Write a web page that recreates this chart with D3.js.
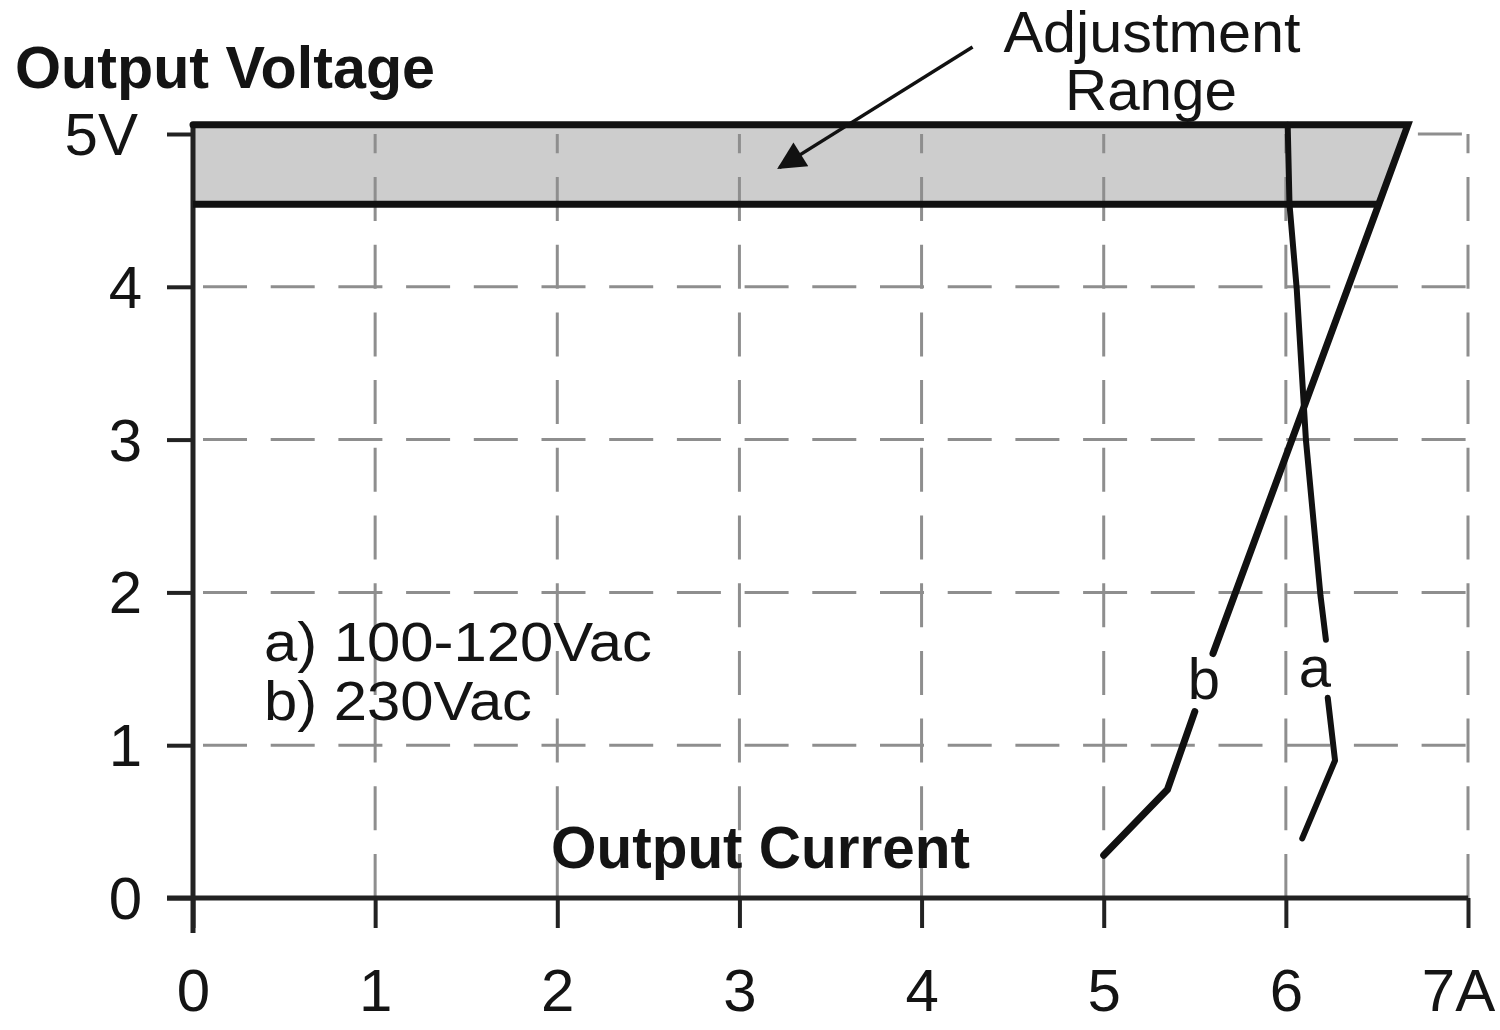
<!DOCTYPE html>
<html>
<head>
<meta charset="utf-8">
<script src="https://cdn.jsdelivr.net/npm/d3@7"></script>
<style>
  html, body { margin: 0; padding: 0; background: #ffffff; }
  svg { display: block; }
  text { font-family: "Liberation Sans", Arial, sans-serif; fill: #141414; }
</style>
</head>
<body>
<svg id="chart" width="1500" height="1030"></svg>
<script>
// ---------- data ----------
const xTicks = [0, 1, 2, 3, 4, 5, 6, 7];
const xTickLabels = ["0", "1", "2", "3", "4", "5", "6", "7A"];
const yTicks = [0, 1, 2, 3, 4, 5];
const yTickLabels = ["0", "1", "2", "3", "4", "5V"];
const gridX = [1, 2, 3, 4, 5, 6, 7];
const gridY = [1, 2, 3, 4];

// adjustment range band (output voltage, V)
const bandTop = 5.06;
const bandBottom = 4.54;

// curve a) 100-120Vac : [current A, voltage V], null = gap for label
const curveA = [[6.01, 5.06], [6.02, 4.54], [6.06, 3.98], [6.11, 3.00], [6.19, 1.98], [6.22, 1.69],
                null,
                [6.23, 1.31], [6.27, 0.90], [6.09, 0.39]];
// curve b) 230Vac
const curveB = [[6.67, 5.06], [6.51, 4.54], [5.60, 1.60],
                null,
                [5.50, 1.22], [5.35, 0.71], [5.00, 0.28]];

const curveLabels = [{ t: "b", x: 5.55, y: 1.30 }, { t: "a", x: 6.16, y: 1.38 }];
const legendLines = ["a) 100-120Vac", "b) 230Vac"];
const arrowFrom = [4.28, 5.57];
const arrowTo = [3.22, 4.78];

// ---------- scales ----------
const svg = d3.select("#chart");
const x = d3.scaleLinear().domain([0, 7]).range([193, 1468]);
const y = d3.scaleLinear().domain([0, 5]).range([898, 134]);

const gridColor = "#8e8e8e";
const ink = "#111";
const line = d3.line().defined(d => d !== null).x(d => x(d[0])).y(d => y(d[1]));

// ---------- band fill ----------
const bandPoly = [[0, bandTop], curveB[0], curveB[1], [0, bandBottom]];
svg.append("path")
  .attr("d", line(bandPoly) + "Z")
  .attr("fill", "#cdcdcd");

// ---------- grid ----------
const grid = svg.append("g");
grid.selectAll("line.gy").data(gridY).join("line")
  .attr("x1", x(0)).attr("x2", x(7))
  .attr("y1", d => y(d)).attr("y2", d => y(d))
  .attr("stroke", gridColor).attr("stroke-width", 3)
  .attr("stroke-dasharray", "44 23.7").attr("stroke-dashoffset", -10);
// top gridline (5V) only visible right of the band
grid.append("line")
  .attr("x1", x(curveB[0][0]) + 10).attr("x2", x(7))
  .attr("y1", y(5)).attr("y2", y(5))
  .attr("stroke", gridColor).attr("stroke-width", 3)
  .attr("stroke-dasharray", "44 12");
grid.selectAll("line.gx").data(gridX).join("line")
  .attr("x1", d => x(d)).attr("x2", d => x(d))
  .attr("y1", y(0)).attr("y2", y(5))
  .attr("stroke", gridColor).attr("stroke-width", 3)
  .attr("stroke-dasharray", "44 23.7");

// ---------- axes ----------
const xAxis = d3.axisBottom(x).tickValues(xTicks)
  .tickFormat((d, i) => xTickLabels[i]).tickSize(30).tickSizeOuter(0).tickPadding(40);
const gx = svg.append("g").attr("transform", `translate(0,${y(0)})`).call(xAxis);
gx.select(".domain").remove();
gx.selectAll(".tick line").attr("stroke", "#222").attr("stroke-width", 4);
gx.selectAll(".tick text").attr("font-size", 60).attr("fill", "#141414")
  .attr("font-family", "Liberation Sans, Arial, sans-serif")
  .attr("dx", (d, i) => xTickLabels[i].length > 1 ? -10 : 0);

const yAxis = d3.axisLeft(y).tickValues(yTicks)
  .tickFormat((d, i) => yTickLabels[i]).tickSize(26).tickSizeOuter(0).tickPadding(25);
const gy = svg.append("g").attr("transform", `translate(${x(0)},0)`).call(yAxis);
gy.select(".domain").remove();
gy.selectAll(".tick line").attr("stroke", "#222").attr("stroke-width", 4);
gy.selectAll(".tick text").attr("font-size", 60).attr("fill", "#141414")
  .attr("font-family", "Liberation Sans, Arial, sans-serif").attr("dy", "0.34em")
  .attr("dx", (d, i) => yTickLabels[i].length > 1 ? -4 : 0);

// axis lines
svg.append("line").attr("x1", x(0) - 26).attr("x2", x(7))
  .attr("y1", y(0)).attr("y2", y(0)).attr("stroke", "#222").attr("stroke-width", 5);
svg.append("line").attr("x1", x(0)).attr("x2", x(0))
  .attr("y1", y(0) + 35).attr("y2", y(bandTop)).attr("stroke", "#222").attr("stroke-width", 5);

// ---------- band outline & curves ----------
svg.append("path").attr("d", line([[0, bandBottom], curveB[1]]))
  .attr("fill", "none").attr("stroke", ink).attr("stroke-width", 7);
svg.append("path").attr("d", line([[0, bandTop]].concat(curveB)))
  .attr("fill", "none").attr("stroke", ink).attr("stroke-width", 7)
  .attr("stroke-linejoin", "miter").attr("stroke-linecap", "round");
svg.append("path").attr("d", line(curveA))
  .attr("fill", "none").attr("stroke", ink).attr("stroke-width", 6)
  .attr("stroke-linejoin", "round").attr("stroke-linecap", "round");

// curve labels
svg.selectAll("text.cl").data(curveLabels).join("text")
  .attr("x", d => x(d.x)).attr("y", d => y(d.y))
  .attr("text-anchor", "middle").attr("font-size", 58).text(d => d.t);

// ---------- texts ----------
svg.append("text").attr("x", 15).attr("y", 88).attr("font-size", 60).attr("font-weight", "bold")
  .attr("textLength", 420).attr("lengthAdjust", "spacingAndGlyphs").text("Output Voltage");
svg.append("text").attr("x", 551).attr("y", 868).attr("font-size", 60).attr("font-weight", "bold")
  .attr("textLength", 419).attr("lengthAdjust", "spacingAndGlyphs").text("Output Current");

svg.selectAll("text.leg").data(legendLines).join("text")
  .attr("x", 264).attr("y", (d, i) => 661 + i * 59)
  .attr("font-size", 56)
  .attr("textLength", (d, i) => i === 0 ? 388 : 268).attr("lengthAdjust", "spacingAndGlyphs")
  .text(d => d);

svg.append("text").attr("x", 1152).attr("y", 52).attr("text-anchor", "middle").attr("font-size", 57)
  .attr("textLength", 297).attr("lengthAdjust", "spacingAndGlyphs").text("Adjustment");
svg.append("text").attr("x", 1151).attr("y", 110).attr("text-anchor", "middle").attr("font-size", 57)
  .attr("textLength", 172).attr("lengthAdjust", "spacingAndGlyphs").text("Range");

// ---------- arrow ----------
svg.append("defs").append("marker")
  .attr("id", "arrowhead").attr("viewBox", "0 0 10 10")
  .attr("refX", 9).attr("refY", 5)
  .attr("markerUnits", "userSpaceOnUse").attr("markerWidth", 36).attr("markerHeight", 28)
  .attr("orient", "auto")
  .append("path").attr("d", "M0,0 L10,5 L0,10 Z").attr("fill", ink);
svg.append("line")
  .attr("x1", x(arrowFrom[0])).attr("y1", y(arrowFrom[1]))
  .attr("x2", x(arrowTo[0])).attr("y2", y(arrowTo[1]))
  .attr("stroke", ink).attr("stroke-width", 3.5)
  .attr("marker-end", "url(#arrowhead)");
</script>
</body>
</html>
